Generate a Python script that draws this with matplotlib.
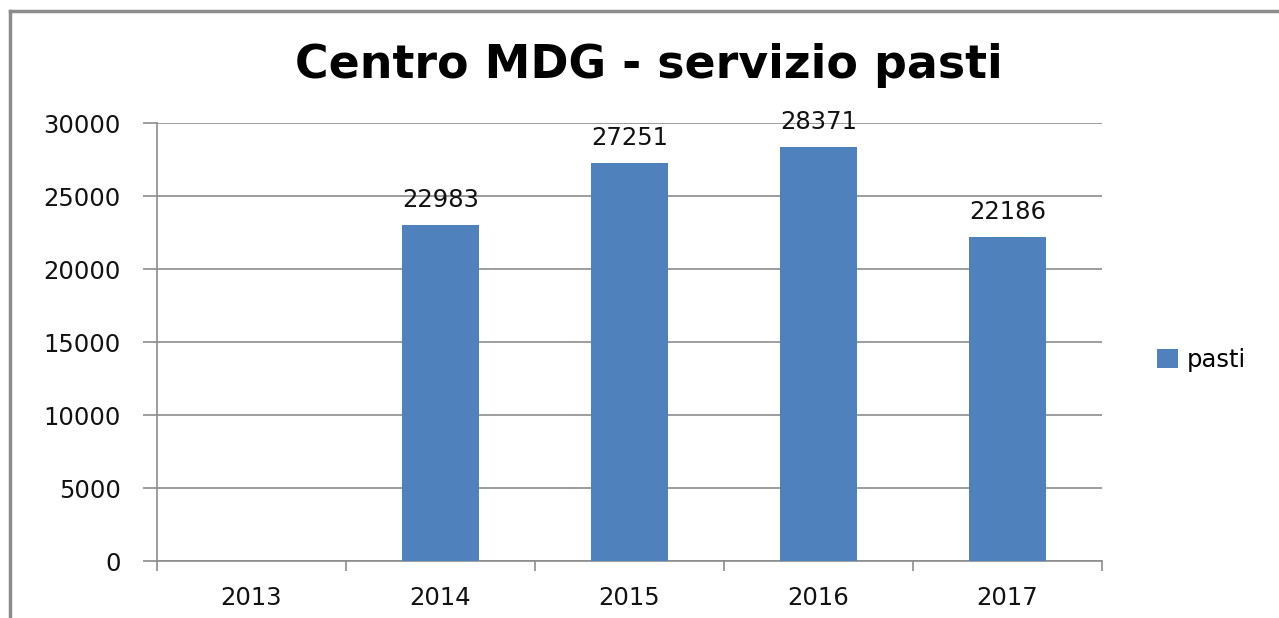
import numpy as np
import matplotlib
matplotlib.use('Agg')
import matplotlib.pyplot as plt
from matplotlib.lines import Line2D
from matplotlib.patches import Patch

# Data
years = ['2013', '2014', '2015', '2016', '2017']
pasti = [np.nan, 22983, 27251, 28371, 22186]  # 2013 has no value
yticks = [0, 5000, 10000, 15000, 20000, 25000, 30000]

bar_color = '#4F81BD'
grid_color = '#8C8C8C'

fig = plt.figure(figsize=(12.79, 6.18), dpi=100)
ax = fig.add_axes([0.1228, 0.0922, 0.7388, 0.7087])

x = np.arange(len(years))
vals = np.array(pasti, dtype=float)
mask = ~np.isnan(vals)
ax.bar(x[mask], vals[mask], width=0.41, color=bar_color, zorder=3)

# value labels above bars
for xi, v in zip(x[mask], vals[mask]):
    ax.annotate(f'{int(v)}', xy=(xi, v), xytext=(0, 13), textcoords='offset points',
                ha='center', va='baseline', fontsize=17.5, color='#111111')

ax.set_xlim(-0.5, len(years) - 0.5)
ax.set_ylim(0, 30000)
ax.set_yticks(yticks)
ax.set_yticklabels([str(t) for t in yticks])
ax.yaxis.grid(True, color=grid_color, linewidth=1.2, zorder=0)

# ticks between categories, labels at category centres
ax.set_xticks(np.arange(-0.5, len(years), 1.0))
ax.set_xticklabels([''] * (len(years) + 1))
ax.set_xticks(x, minor=True)
ax.set_xticklabels(years, minor=True)
ax.tick_params(axis='x', which='major', length=7, color=grid_color, width=1.2)
ax.tick_params(axis='x', which='minor', length=0, labelsize=17.5, pad=18, labelcolor='#111111')
ax.tick_params(axis='y', length=10, color=grid_color, width=1.2, labelsize=17.5, pad=16,
               labelcolor='#111111')

for s in ['top', 'right']:
    ax.spines[s].set_visible(False)
for s in ['left', 'bottom']:
    ax.spines[s].set_color(grid_color)
    ax.spines[s].set_linewidth(1.2)

fig.text(0.507, 0.873, 'Centro MDG - servizio pasti', ha='center', va='baseline',
         fontsize=33, fontweight='bold')

fig.legend(handles=[Patch(facecolor=bar_color, label='pasti')], loc='center left',
           bbox_to_anchor=(0.905, 0.418), frameon=False, fontsize=17.5,
           handlelength=0.85, handleheight=0.85, handletextpad=0.35, borderpad=0,
           borderaxespad=0)

# outer chart border (left and top visible)
fig.add_artist(Line2D([10 / 1279, 10 / 1279], [0, 1 - 11 / 618], color='#8C8C8C', linewidth=2.5))
fig.add_artist(Line2D([10 / 1279, 1], [1 - 11 / 618, 1 - 11 / 618], color='#8C8C8C', linewidth=2.5))

fig.savefig('out.png', dpi=100)
